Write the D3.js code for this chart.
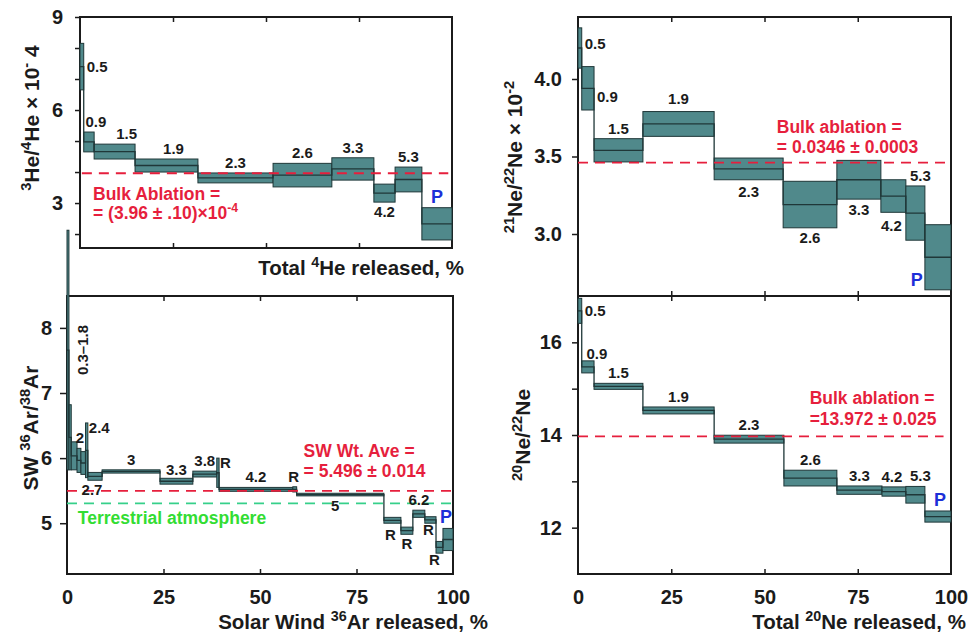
<!DOCTYPE html>
<html><head><meta charset="utf-8">
<script src="https://cdn.jsdelivr.net/npm/d3@7"></script>
<style>body{margin:0;background:#fff}svg{display:block}</style>
</head><body><svg id="c" width="973" height="635"></svg>
<script>
// ---------------- DATA ----------------
// Total 4He released, % (step edges) and 3He/4He x 1e-4
const heEdges = [0, 1, 3.8, 14.8, 31.7, 51.9, 67.7, 79, 84.7, 91.9, 100];
const heRatio = [7.4, 4.97, 4.66, 4.21, 3.81, 3.9, 4.1, 3.32, 3.76, 2.33];
const heErr   = [0.75, 0.32, 0.24, 0.21, 0.16, 0.38, 0.36, 0.29, 0.4, 0.52];
const heLabels = ['0.5','0.9','1.5','1.9','2.3','2.6','3.3','4.2','5.3','P'];
const heBulk = 3.96;

// Solar wind 36Ar released, % and SW 36Ar/38Ar
const arEdges = [0,0.5,1.1,2.6,3.6,4.8,5.4,9.1,24.1,32.6,38.8,39.4,58.5,59.5,82.1,86.5,89.6,92.7,95.6,97.4,100];
const arRatio = [7.66,6.32,6.035,5.965,5.925,6.12,5.72,5.795,5.645,5.755,5.775,5.52,5.52,5.44,5.045,4.885,5.145,5.05,4.63,4.75];
const arErr   = [1.84,0.5,0.215,0.185,0.175,0.42,0.06,0.025,0.045,0.045,0.225,0.03,0.04,0.02,0.045,0.055,0.055,0.05,0.09,0.17];
const arLabels = ['0.3–1.8','','','2','','2.4','2.7','3','3.3','3.8','R','4.2','R','5','R','R','6.2','R','R','P'];
const arSwAve = 5.496;
const arTerrestrial = 5.305;

// Total 20Ne released, % and 21Ne/22Ne x 1e-2
const ne21Edges = [0, 1.0, 4.3, 17.4, 36.5, 55, 69.4, 81.2, 87.9, 93, 100];
const ne21Ratio = [4.2, 3.94, 3.54, 3.71, 3.42, 3.19, 3.35, 3.245, 3.135, 2.85];
const ne21Err   = [0.13, 0.14, 0.075, 0.08, 0.07, 0.15, 0.125, 0.105, 0.175, 0.21];
const ne21Labels = ['0.5','0.9','1.5','1.9','2.3','2.6','3.3','4.2','5.3','P'];
const ne21Bulk = 3.46;

// 20Ne/22Ne
const ne20Edges = [0, 1.0, 4.3, 17.4, 36.5, 55.2, 69.4, 81.5, 87.9, 93, 100];
const ne20Ratio = [16.68, 15.47, 15.05, 14.53, 13.91, 13.07, 12.81, 12.78, 12.71, 12.24];
const ne20Err   = [0.27, 0.13, 0.065, 0.075, 0.085, 0.17, 0.09, 0.1, 0.18, 0.12];
const ne20Labels = ['0.5','0.9','1.5','1.9','2.3','2.6','3.3','4.2','5.3','P'];
const ne20Bulk = 13.972;

// Tick labels
const xTickLabels = [0, 25, 50, 75, 100];
const xInnerTicks = [25, 50, 75];
const heYTicks = [3, 6, 9];
const heYMinor = [2, 4, 5, 7, 8];
const arYTicks = [5, 6, 7, 8];
const ne21YTicks = [3.0, 3.5, 4.0];
const ne20YTicks = [12, 14, 16];
const ne20YMinor = [13, 15];

// Texts (parts: [text, superscript])
const heYTitle = [['3',1],['He/',0],['4',1],['He × 10',0],['-',1],[' 4',0]];
const arYTitle = [['SW ',0],['36',1],['Ar/',0],['38',1],['Ar',0]];
const ne21YTitle = [['21',1],['Ne/',0],['22',1],['Ne × 10',0],['-2',1]];
const ne20YTitle = [['20',1],['Ne/',0],['22',1],['Ne',0]];
const heXTitle = [['Total ',0],['4',1],['He released, %',0]];
const arXTitle = [['Solar Wind ',0],['36',1],['Ar released, %',0]];
const neXTitle = [['Total ',0],['20',1],['Ne released, %',0]];

// ---------------- LAYOUT / STYLE ----------------
const FONT = "'Liberation Sans', Arial, Helvetica, sans-serif";
const INK = '#1b1b1b';
const FILL = '#50898b';
const EDGE = '#1f3738';
const RED = '#e61f3d';
const BLUE = '#1d2fd8';
const GREEN_T = '#33dd33';
const GREEN_L = '#36d08a';

// label placement codes: a=above, b=below, r=right(mid), rt=right(top), lb=left-bottom, v=vertical right
const hePlace = ['r','a','a','a','a','a','a','b','a','a'];
const heDx = [0,7,12,7,0,0,0,0,0,0];
const heDy = [0,0,0,0,0,0,0,0,0,0];
const arPlace = ['v','','','a','','rt','b','a','a','a','rt','a','a','b','b','b','a','b','b','a'];
const arDx = [0,0,0,1,0,0,-3,0,0,0,0,0,-1,-5,-2,0,0,-2,-5,-2];
const arDy = [0,0,0,0,0,0,0,0,2,0,0,0,0,0,2,0,0,-3,-3,0];
const ne21Place = ['r','r','a','a','b','b','b','b','a','lb'];
const ne21Dx = [0,0,0,0,0,0,0,-2,5,0];
const ne21Dy = [-4,9,0,-3,2,0,1,4,0,0];
const ne20Place = ['r','a','a','a','a','a','a','a','a','a'];
const ne20Dx = [0,9,0,0,0,0,0,-2,5,2];
const ne20Dy = [0,3,0,0,0,0,0,0,0,0];

const svg = d3.select('#c');
svg.append('rect').attr('width',973).attr('height',635).attr('fill','#fff');

function rich(sel, parts, fs) {
  let up = false;
  parts.forEach(([s, sup]) => {
    const t = sel.append('tspan').text(s);
    if (sup) {
      t.attr('font-size', fs * 0.7);
      if (!up) { t.attr('dy', -fs * 0.4); up = true; }
    } else if (up) { t.attr('dy', fs * 0.4); up = false; }
  });
  return sel;
}

function makePanel(cfg) {
  const g = svg.append('g');
  const x = d3.scaleLinear().domain([0, 100]).range([cfg.left, cfg.right]);
  const y = d3.scaleLinear().domain(cfg.yDom).range([cfg.bottom, cfg.top]);
  const ya = g.append('g').attr('transform', `translate(${cfg.left},0)`)
    .call(d3.axisLeft(y).tickValues(cfg.yTicks).tickSize(cfg.ts).tickPadding(cfg.tp)
      .tickFormat(cfg.fmt ? d3.format(cfg.fmt) : d3.format('d')));
  ya.select('.domain').remove();
  ya.selectAll('text').attr('font-family', FONT).attr('font-weight', 'bold').attr('font-size', 20).attr('fill', INK);
  ya.selectAll('line').attr('stroke', INK).attr('stroke-width', 1.5);
  if (cfg.yMinor) {
    const ym = g.append('g').attr('transform', `translate(${cfg.left},0)`)
      .call(d3.axisLeft(y).tickValues(cfg.yMinor).tickSize(cfg.ts).tickFormat(''));
    ym.select('.domain').remove();
    ym.selectAll('line').attr('stroke', INK).attr('stroke-width', 1.5);
  }
  if (cfg.topTicks) {
    const xt = g.append('g').attr('transform', `translate(0,${cfg.top})`)
      .call(d3.axisTop(x).tickValues(xInnerTicks).tickSize(-5).tickFormat(''));
    xt.select('.domain').remove();
    xt.selectAll('line').attr('stroke', INK).attr('stroke-width', 1.5);
  }
  const xb = g.append('g').attr('transform', `translate(0,${cfg.bottom})`)
    .call(d3.axisBottom(x).tickValues(xInnerTicks).tickSize(-5).tickFormat(''));
  xb.select('.domain').remove();
  xb.selectAll('line').attr('stroke', INK).attr('stroke-width', 1.5);
  if (cfg.xLabels) {
    const xl = g.append('g').attr('transform', `translate(0,${cfg.bottom})`)
      .call(d3.axisBottom(x).tickValues(xTickLabels).tickSize(0).tickPadding(16).tickFormat(d3.format('d')));
    xl.select('.domain').remove();
    xl.selectAll('text').attr('font-family', FONT).attr('font-weight', 'bold').attr('font-size', 20).attr('fill', INK);
  }
  g.append('rect').attr('x', cfg.left).attr('y', cfg.top)
    .attr('width', cfg.right - cfg.left).attr('height', cfg.bottom - cfg.top)
    .attr('fill', 'none').attr('stroke', INK).attr('stroke-width', 2);
  return { g, x, y };
}

function drawSteps(p, edges, vals, errs) {
  const steps = vals.map((v, i) => ({ x0: edges[i], x1: edges[i + 1], v, e: errs[i] }));
  p.g.append('g').selectAll('rect').data(steps).join('rect')
    .attr('x', d => p.x(d.x0)).attr('width', d => Math.max(p.x(d.x1) - p.x(d.x0), 1))
    .attr('y', d => p.y(d.v + d.e)).attr('height', d => p.y(d.v - d.e) - p.y(d.v + d.e))
    .attr('fill', FILL).attr('stroke', EDGE).attr('stroke-width', 1);
  const pts = steps.map(d => [d.x0, d.v]).concat([[100, vals[vals.length - 1]]]);
  p.g.append('path').attr('d', d3.line().x(d => p.x(d[0])).y(d => p.y(d[1])).curve(d3.curveStepAfter)(pts))
    .attr('fill', 'none').attr('stroke', EDGE).attr('stroke-width', 1.3);
  return steps;
}

function dashed(p, v, x0, x1, color) {
  p.g.append('line').attr('x1', p.x(x0)).attr('x2', p.x(x1)).attr('y1', p.y(v)).attr('y2', p.y(v))
    .attr('stroke', color).attr('stroke-width', 1.8).attr('stroke-dasharray', '10,7');
}

function stepLabels(p, steps, labels, place, dx, dy) {
  steps.forEach((d, i) => {
    const lab = labels[i];
    if (!lab) return;
    const xa = p.x(d.x0), xb = p.x(d.x1), xc = (xa + xb) / 2;
    const yt = p.y(d.v + d.e), ybm = p.y(d.v - d.e), ym = p.y(d.v);
    let tx, ty, anchor = 'middle', rot = false;
    switch (place[i]) {
      case 'a': tx = xc; ty = yt - 5; break;
      case 'b': tx = xc; ty = ybm + 15; break;
      case 'r': tx = xb + 3; ty = ym + 5; anchor = 'start'; break;
      case 'rt': tx = xb + 1; ty = yt + 10; anchor = 'start'; break;
      case 'lb': tx = xa - 2; ty = ybm - 4; anchor = 'end'; break;
      case 'v': tx = xb + 19; ty = ym; rot = true; break;
    }
    tx += dx[i]; ty += dy[i];
    const t = p.g.append('text').attr('font-family', FONT).attr('font-weight', 'bold')
      .attr('font-size', lab === 'P' ? 18 : 15).attr('fill', lab === 'P' ? BLUE : INK)
      .attr('text-anchor', anchor).text(lab);
    if (rot) t.attr('transform', `translate(${tx},${ty}) rotate(-90)`);
    else t.attr('x', tx).attr('y', ty);
  });
}

function yTitle(parts, x, y) {
  const t = svg.append('text').attr('font-family', FONT).attr('font-weight', 'bold').attr('font-size', 21)
    .attr('fill', INK).attr('text-anchor', 'middle').attr('transform', `translate(${x},${y}) rotate(-90)`);
  rich(t, parts, 21);
}
function xTitle(parts, x, y) {
  const t = svg.append('text').attr('font-family', FONT).attr('font-weight', 'bold').attr('font-size', 20.5)
    .attr('fill', INK).attr('text-anchor', 'end').attr('x', x).attr('y', y);
  rich(t, parts, 20.5);
}
function note(p, parts, xv, yPix, color, fs) {
  const t = p.g.append('text').attr('font-family', FONT).attr('font-weight', 'bold').attr('font-size', fs)
    .attr('fill', color).attr('x', p.x(xv)).attr('y', yPix);
  rich(t, parts, fs);
}

// ---------------- PANELS ----------------
const pHe = makePanel({ left: 80, right: 452, top: 17, bottom: 248, yDom: [1.55, 9], yTicks: heYTicks, yMinor: heYMinor, ts: 5, tp: 12, topTicks: true });
const sHe = drawSteps(pHe, heEdges, heRatio, heErr);
dashed(pHe, heBulk, 0.5, 99, RED);
stepLabels(pHe, sHe, heLabels, hePlace, heDx, heDy);
note(pHe, [['Bulk Ablation =',0]], 3.5, pHe.y(heBulk) + 27, RED, 17.5);
note(pHe, [['= (3.96 ± .10)×10',0],['-4',1]], 3.5, pHe.y(heBulk) + 46, RED, 17.5);

const pAr = makePanel({ left: 67, right: 453, top: 296, bottom: 574, yDom: [4.22, 8.49], yTicks: arYTicks, ts: 7, tp: 8, topTicks: true, xLabels: true });
const sAr = drawSteps(pAr, arEdges, arRatio, arErr);
dashed(pAr, arSwAve, 0, 100, RED);
dashed(pAr, arTerrestrial, 0, 100, GREEN_L);
stepLabels(pAr, sAr, arLabels, arPlace, arDx, arDy);
note(pAr, [['SW Wt. Ave =',0]], 61.3, pAr.y(arSwAve) - 34, RED, 17.5);
note(pAr, [['= 5.496 ± 0.014',0]], 61.3, pAr.y(arSwAve) - 14, RED, 17.5);
note(pAr, [['Terrestrial atmosphere',0]], 2.8, pAr.y(arTerrestrial) + 21, GREEN_T, 17.5);

const pN21 = makePanel({ left: 578, right: 951, top: 17, bottom: 296, yDom: [2.6, 4.4], yTicks: ne21YTicks, fmt: '.1f', ts: 6, tp: 10, topTicks: true });
const sN21 = drawSteps(pN21, ne21Edges, ne21Ratio, ne21Err);
dashed(pN21, ne21Bulk, 0, 98.5, RED);
stepLabels(pN21, sN21, ne21Labels, ne21Place, ne21Dx, ne21Dy);
note(pN21, [['Bulk ablation =',0]], 53.3, pN21.y(ne21Bulk) - 30, RED, 17.5);
note(pN21, [['= 0.0346 ± 0.0003',0]], 53.3, pN21.y(ne21Bulk) - 10, RED, 17.5);

const pN20 = makePanel({ left: 578, right: 951, top: 296, bottom: 574, yDom: [11, 17], yTicks: ne20YTicks, yMinor: ne20YMinor, ts: 6, tp: 10, topTicks: true, xLabels: true });
const sN20 = drawSteps(pN20, ne20Edges, ne20Ratio, ne20Err);
dashed(pN20, ne20Bulk, 0, 98, RED);
stepLabels(pN20, sN20, ne20Labels, ne20Place, ne20Dx, ne20Dy);
note(pN20, [['Bulk ablation =',0]], 62.1, pN20.y(ne20Bulk) - 32, RED, 17.5);
note(pN20, [['=13.972 ± 0.025',0]], 62.1, pN20.y(ne20Bulk) - 11, RED, 17.5);

yTitle(heYTitle, 39, 118);
yTitle(arYTitle, 38, 428);
yTitle(ne21YTitle, 522, 157);
yTitle(ne20YTitle, 530, 435);
xTitle(heXTitle, 464, 275);
xTitle(arXTitle, 488, 629);
xTitle(neXTitle, 966, 629);
</script>
</body></html>
